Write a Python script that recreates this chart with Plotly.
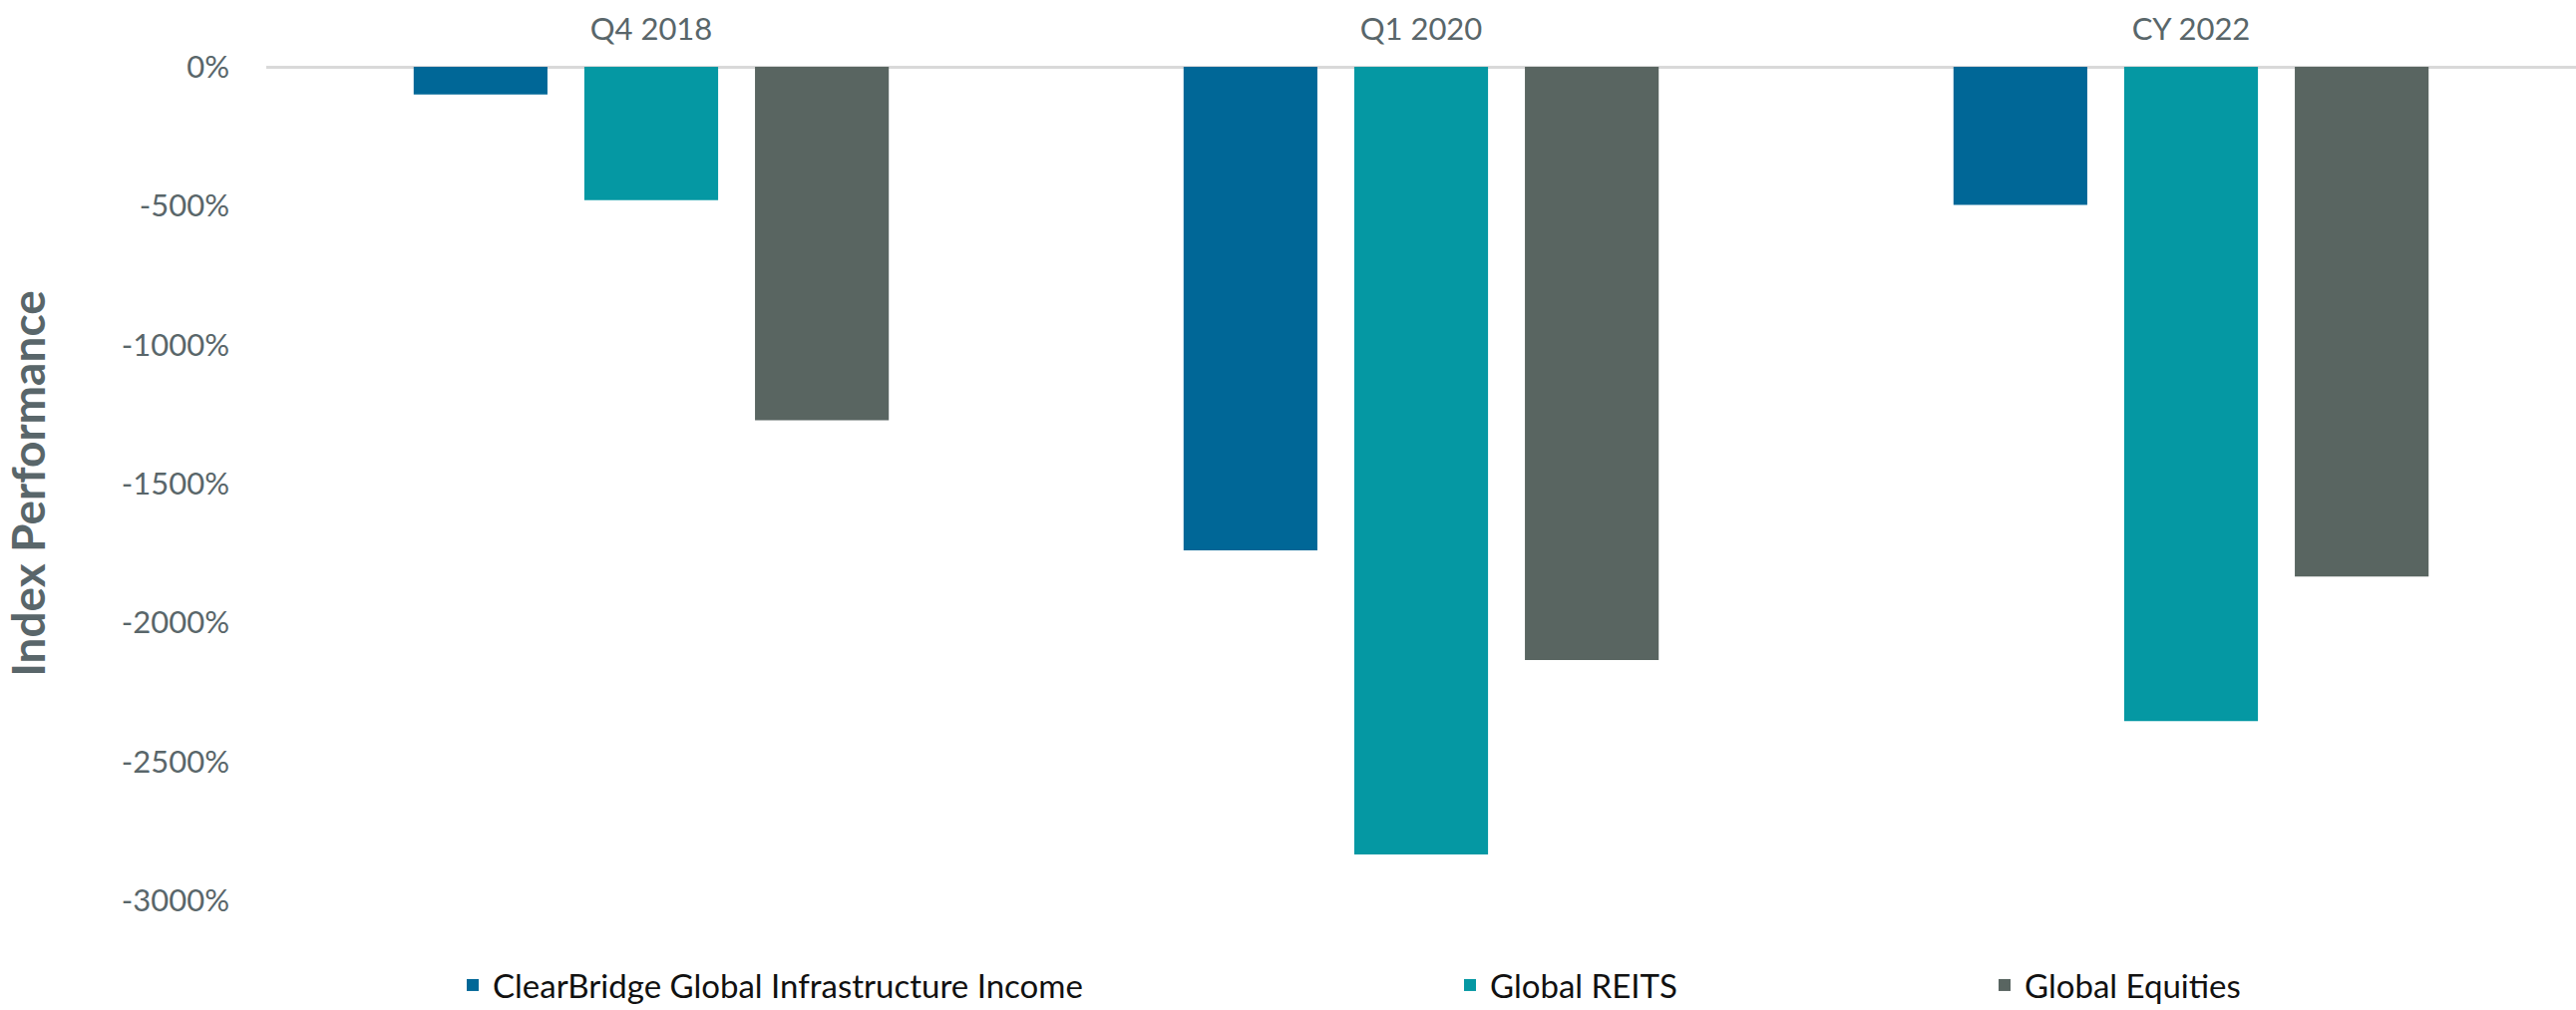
import plotly.graph_objects as go

categories = ["Q4 2018", "Q1 2020", "CY 2022"]
series_names = ["ClearBridge Global Infrastructure Income", "Global REITS", "Global Equities"]
infra_values = [-100, -1740, -497]
reits_values = [-480, -2835, -2355]
equities_values = [-1272, -2135, -1835]
y_tick_values = [0, -500, -1000, -1500, -2000, -2500, -3000]
y_tick_labels = ["0%", "-500%", "-1000%", "-1500%", "-2000%", "-2500%", "-3000%"]

colors = ["#006797", "#0598A3", "#596561"]
text_gray = "#59666A"
font_family = "Lato, Open Sans, sans-serif"

fig = go.Figure()
legend_ids = ["legend", "legend2", "legend3"]
for name, vals, col, lg in zip(series_names, [infra_values, reits_values, equities_values], colors, legend_ids):
    fig.add_trace(go.Bar(x=categories, y=vals, name=name, marker=dict(color=col, line=dict(width=0)),
                         legend=lg, showlegend=True))

W, H = 2583, 1013
legend_common = dict(xref="container", yref="container", yanchor="middle", xanchor="left",
                     orientation="h", font=dict(family=font_family, size=33, color="#111111"),
                     bgcolor="rgba(0,0,0,0)")
fig.update_layout(
    width=W, height=H,
    showlegend=True,
    margin=dict(l=267, r=0, t=67, b=110),
    paper_bgcolor="white", plot_bgcolor="white",
    barmode="group", bargap=0.335, bargroupgap=0.216,
    font=dict(family=font_family, color=text_gray),
    legend=dict(x=454 / W, y=1 - 988 / H, **legend_common),
    legend2=dict(x=1454 / W, y=1 - 988 / H, **legend_common),
    legend3=dict(x=1990 / W, y=1 - 988 / H, **legend_common),
    xaxis=dict(side="top", showgrid=False, showline=False, zeroline=False,
               tickfont=dict(size=31, color=text_gray), ticks="", ticklabelstandoff=20),
    yaxis=dict(range=[-3000, 0], tickvals=y_tick_values, ticktext=y_tick_labels,
               showgrid=False, zeroline=True, zerolinecolor="#D9D9D9", zerolinewidth=3,
               showline=False, tickfont=dict(size=31, color=text_gray), ticklabelstandoff=36,
               title=dict(text="<b>Index Performance</b>", font=dict(size=46, color=text_gray), standoff=76)),
)
fig.write_html("out.html")
